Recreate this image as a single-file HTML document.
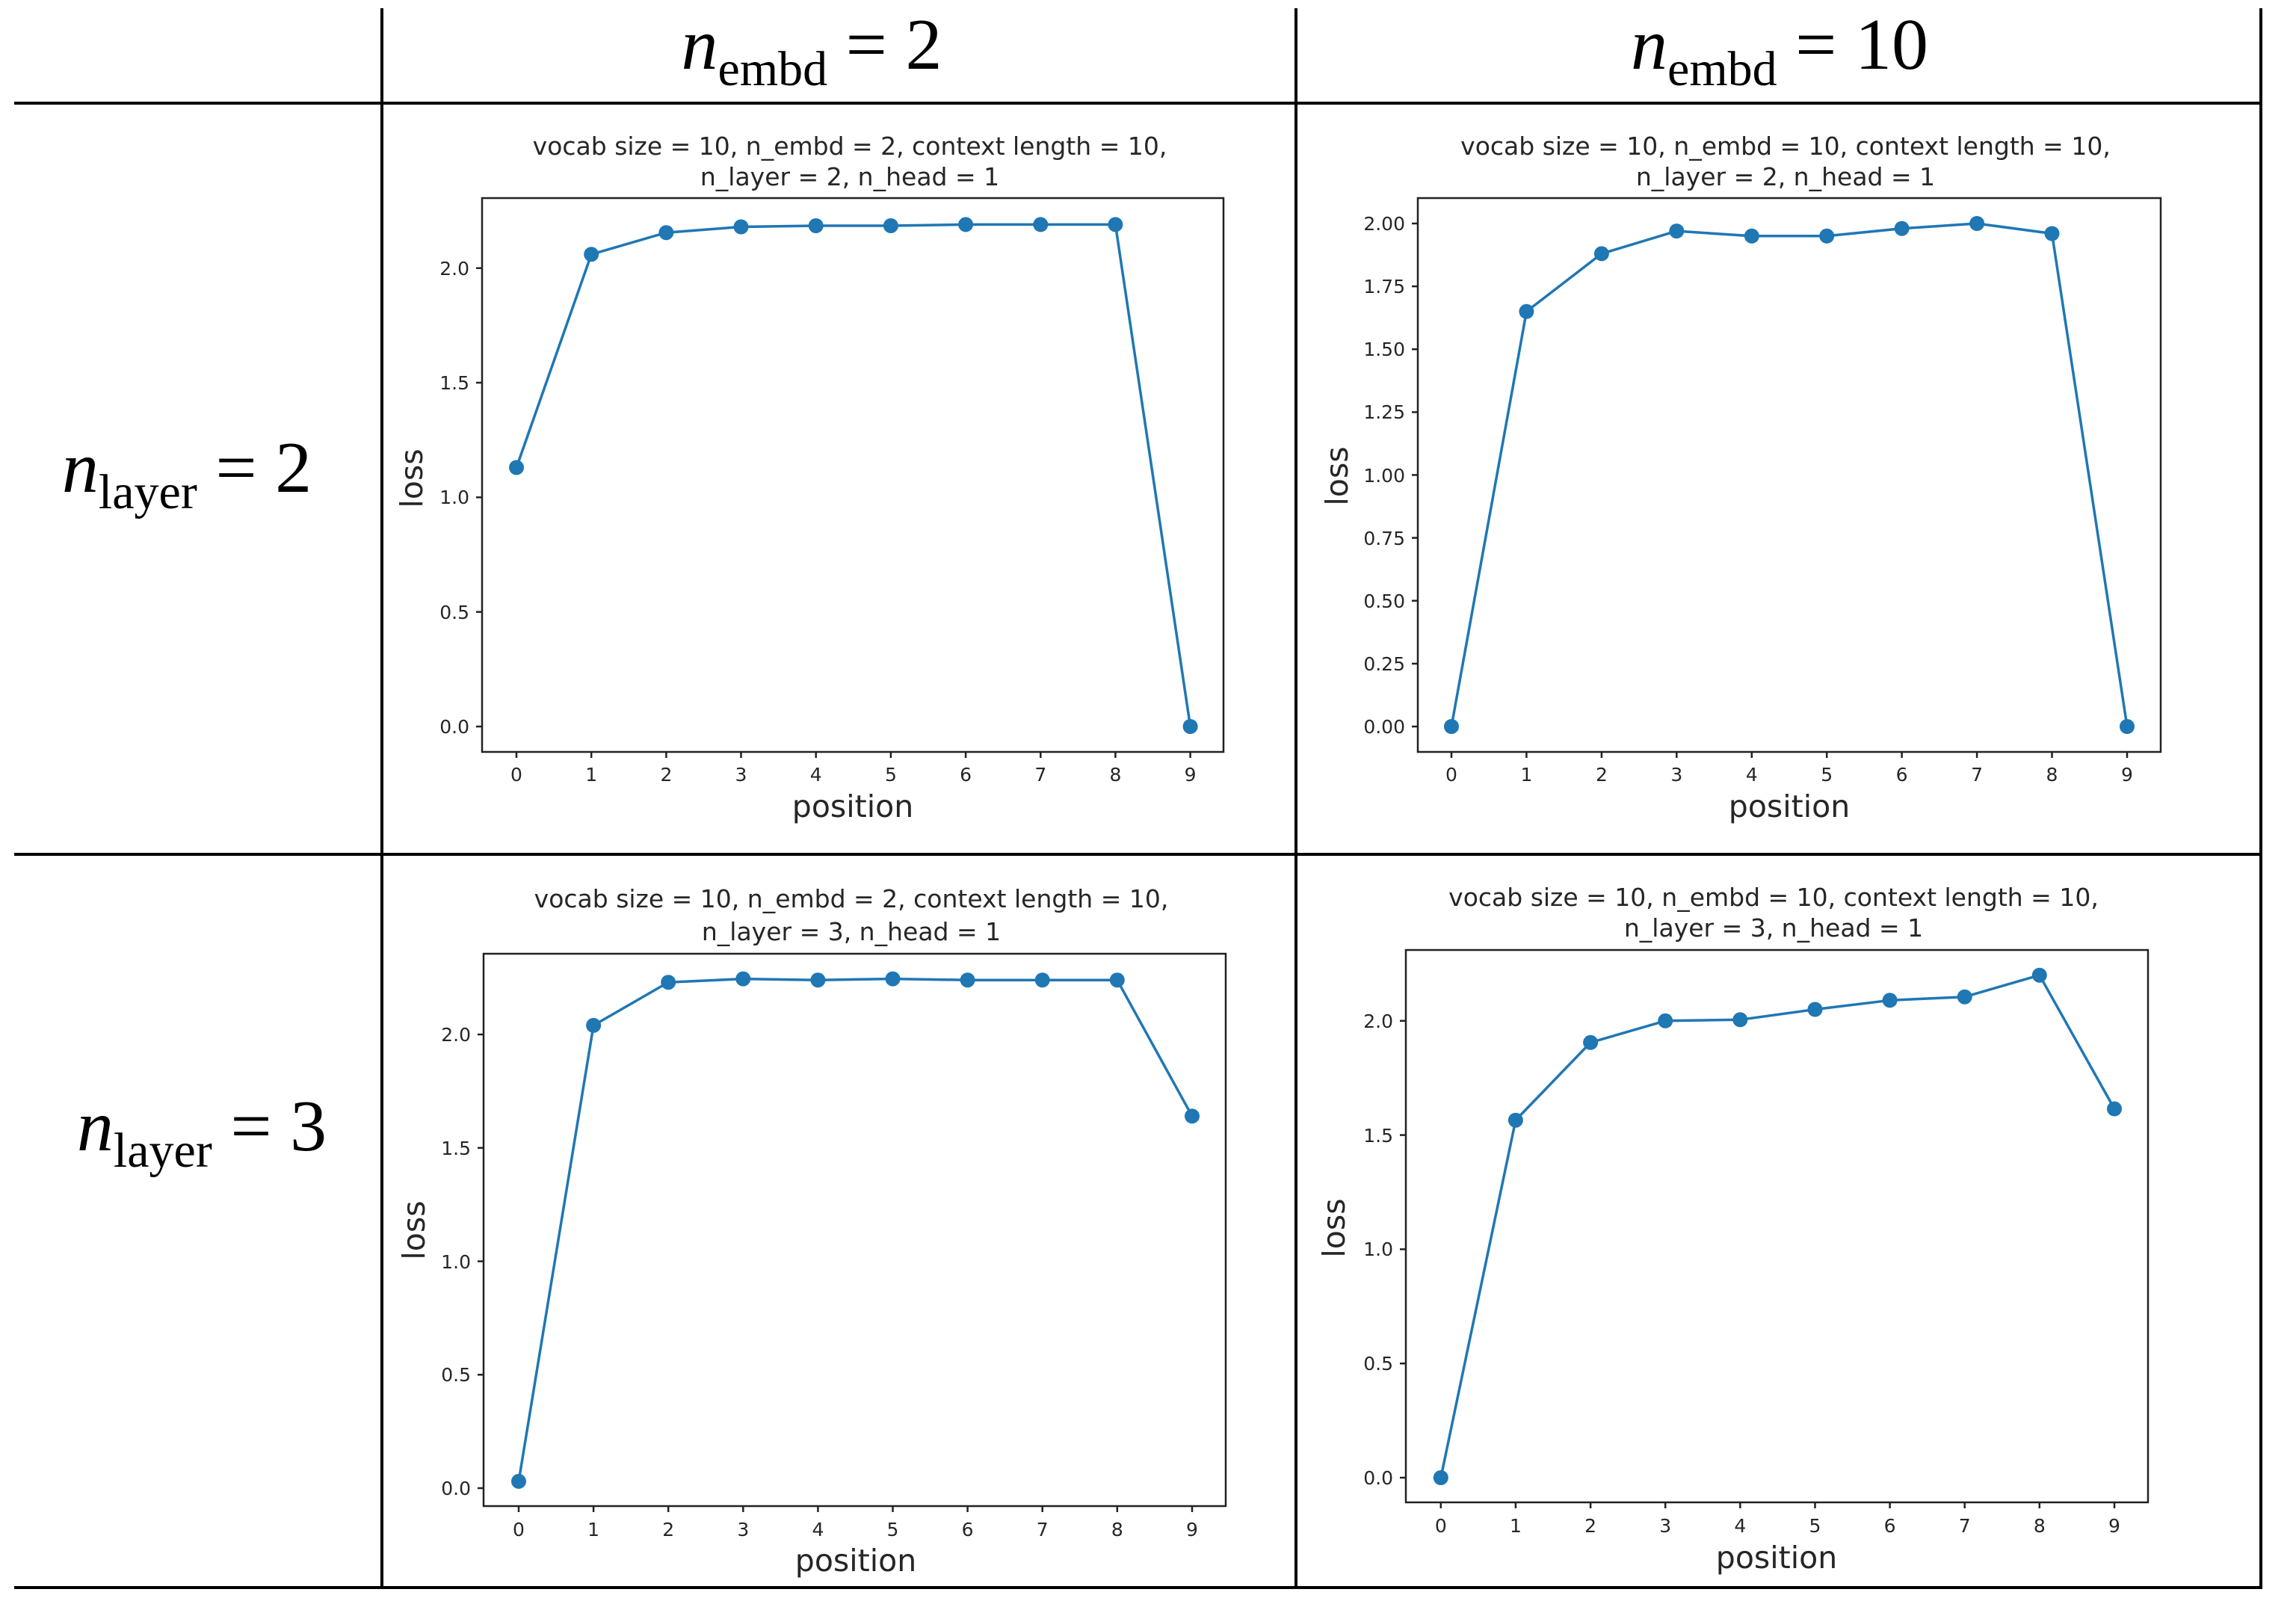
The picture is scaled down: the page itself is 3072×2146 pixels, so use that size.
<!DOCTYPE html>
<html><head><meta charset="utf-8"><style>
html,body{margin:0;padding:0;background:#fff;width:3072px;height:2146px;overflow:hidden}
svg{display:block}
.tk{font-family:"DejaVu Sans",sans-serif;font-size:25px;fill:#262626}
.tt{font-family:"DejaVu Sans",sans-serif;font-size:33px;fill:#262626;text-anchor:middle}
.lb{font-family:"DejaVu Sans",sans-serif;font-size:41px;fill:#262626;text-anchor:middle}
.hd{font-family:"Liberation Serif",serif;font-size:98px;fill:#000}
.ln{fill:none;stroke:#1f77b4;stroke-width:3.5;stroke-linejoin:round}
.ax{fill:none;stroke:#222;stroke-width:2.5}
</style></head><body>
<svg width="3072" height="2146" viewBox="0 0 3072 2146" xmlns="http://www.w3.org/2000/svg">
<g stroke="#000" stroke-width="4">
<line x1="19" y1="138" x2="3025" y2="138"/>
<line x1="19" y1="1143" x2="3025" y2="1143"/>
<line x1="19" y1="2124" x2="3027" y2="2124"/>
<line x1="511" y1="11" x2="511" y2="2126"/>
<line x1="1734" y1="11" x2="1734" y2="2126"/>
<line x1="3025" y1="11" x2="3025" y2="2126"/>
</g>
<text class="hd" x="1086" y="92" text-anchor="middle"><tspan font-style="italic">n</tspan><tspan font-size="66" dy="22">embd</tspan><tspan dy="-22"> = 2</tspan></text>
<text class="hd" x="2381" y="92" text-anchor="middle"><tspan font-style="italic">n</tspan><tspan font-size="66" dy="22">embd</tspan><tspan dy="-22"> = 10</tspan></text>
<text class="hd" x="250" y="658" text-anchor="middle"><tspan font-style="italic">n</tspan><tspan font-size="66" dy="22">layer</tspan><tspan dy="-22"> = 2</tspan></text>
<text class="hd" x="270" y="1539" text-anchor="middle"><tspan font-style="italic">n</tspan><tspan font-size="66" dy="22">layer</tspan><tspan dy="-22"> = 3</tspan></text>

<text class="tt" x="1137" y="207">vocab size = 10, n_embd = 2, context length = 10,</text>
<text class="tt" x="1137" y="248">n_layer = 2, n_head = 1</text>
<rect class="ax" x="645" y="265" width="992" height="741"/>
<g stroke="#222" stroke-width="2.5">
<line x1="637" y1="972" x2="645" y2="972"/><line x1="637" y1="818.7" x2="645" y2="818.7"/><line x1="637" y1="665.4" x2="645" y2="665.4"/><line x1="637" y1="512" x2="645" y2="512"/><line x1="637" y1="358.7" x2="645" y2="358.7"/>
<line x1="691" y1="1006" x2="691" y2="1014"/><line x1="791.2" y1="1006" x2="791.2" y2="1014"/><line x1="891.4" y1="1006" x2="891.4" y2="1014"/><line x1="991.5" y1="1006" x2="991.5" y2="1014"/><line x1="1091.7" y1="1006" x2="1091.7" y2="1014"/><line x1="1191.9" y1="1006" x2="1191.9" y2="1014"/><line x1="1292.1" y1="1006" x2="1292.1" y2="1014"/><line x1="1392.3" y1="1006" x2="1392.3" y2="1014"/><line x1="1492.4" y1="1006" x2="1492.4" y2="1014"/><line x1="1592.6" y1="1006" x2="1592.6" y2="1014"/>
</g>
<g class="tk" text-anchor="end">
<text x="628" y="981">0.0</text><text x="628" y="828">0.5</text><text x="628" y="674">1.0</text><text x="628" y="521">1.5</text><text x="628" y="368">2.0</text>
</g>
<g class="tk" text-anchor="middle">
<text x="691" y="1045">0</text><text x="791.2" y="1045">1</text><text x="891.4" y="1045">2</text><text x="991.5" y="1045">3</text><text x="1091.7" y="1045">4</text><text x="1191.9" y="1045">5</text><text x="1292.1" y="1045">6</text><text x="1392.3" y="1045">7</text><text x="1492.4" y="1045">8</text><text x="1592.6" y="1045">9</text>
</g>
<text class="lb" x="1141" y="1093">position</text>
<text class="lb" transform="translate(565,640) rotate(-90)">loss</text>
<polyline class="ln" points="691,625.5 791.2,340.3 891.4,311.2 991.5,303.5 1091.7,302 1191.9,302 1292.1,300.4 1392.3,300.4 1492.4,300.4 1592.6,972"/>
<g fill="#1f77b4"><circle cx="691" cy="625.5" r="10"/><circle cx="791.2" cy="340.3" r="10"/><circle cx="891.4" cy="311.2" r="10"/><circle cx="991.5" cy="303.5" r="10"/><circle cx="1091.7" cy="302" r="10"/><circle cx="1191.9" cy="302" r="10"/><circle cx="1292.1" cy="300.4" r="10"/><circle cx="1392.3" cy="300.4" r="10"/><circle cx="1492.4" cy="300.4" r="10"/><circle cx="1592.6" cy="972" r="10"/></g>

<text class="tt" x="2389" y="207">vocab size = 10, n_embd = 10, context length = 10,</text>
<text class="tt" x="2389" y="248">n_layer = 2, n_head = 1</text>
<rect class="ax" x="1897" y="265" width="994" height="741"/>
<g stroke="#222" stroke-width="2.5">
<line x1="1889" y1="972" x2="1897" y2="972"/><line x1="1889" y1="887.9" x2="1897" y2="887.9"/><line x1="1889" y1="803.75" x2="1897" y2="803.75"/><line x1="1889" y1="719.6" x2="1897" y2="719.6"/><line x1="1889" y1="635.5" x2="1897" y2="635.5"/><line x1="1889" y1="551.4" x2="1897" y2="551.4"/><line x1="1889" y1="467.25" x2="1897" y2="467.25"/><line x1="1889" y1="383.1" x2="1897" y2="383.1"/><line x1="1889" y1="299" x2="1897" y2="299"/>
<line x1="1942" y1="1006" x2="1942" y2="1014"/><line x1="2042.4" y1="1006" x2="2042.4" y2="1014"/><line x1="2142.9" y1="1006" x2="2142.9" y2="1014"/><line x1="2243.3" y1="1006" x2="2243.3" y2="1014"/><line x1="2343.8" y1="1006" x2="2343.8" y2="1014"/><line x1="2444.2" y1="1006" x2="2444.2" y2="1014"/><line x1="2544.6" y1="1006" x2="2544.6" y2="1014"/><line x1="2645.1" y1="1006" x2="2645.1" y2="1014"/><line x1="2745.5" y1="1006" x2="2745.5" y2="1014"/><line x1="2846" y1="1006" x2="2846" y2="1014"/>
</g>
<g class="tk" text-anchor="end">
<text x="1880" y="981">0.00</text><text x="1880" y="897">0.25</text><text x="1880" y="813">0.50</text><text x="1880" y="729">0.75</text><text x="1880" y="645">1.00</text><text x="1880" y="560">1.25</text><text x="1880" y="476">1.50</text><text x="1880" y="392">1.75</text><text x="1880" y="308">2.00</text>
</g>
<g class="tk" text-anchor="middle">
<text x="1942" y="1045">0</text><text x="2042.4" y="1045">1</text><text x="2142.9" y="1045">2</text><text x="2243.3" y="1045">3</text><text x="2343.8" y="1045">4</text><text x="2444.2" y="1045">5</text><text x="2544.6" y="1045">6</text><text x="2645.1" y="1045">7</text><text x="2745.5" y="1045">8</text><text x="2846" y="1045">9</text>
</g>
<text class="lb" x="2394" y="1093">position</text>
<text class="lb" transform="translate(1803,637) rotate(-90)">loss</text>
<polyline class="ln" points="1942,972 2042.4,416.8 2142.9,339.4 2243.3,309.1 2343.8,315.8 2444.2,315.8 2544.6,305.7 2645.1,299 2745.5,312.5 2846,972"/>
<g fill="#1f77b4"><circle cx="1942" cy="972" r="10"/><circle cx="2042.4" cy="416.8" r="10"/><circle cx="2142.9" cy="339.4" r="10"/><circle cx="2243.3" cy="309.1" r="10"/><circle cx="2343.8" cy="315.8" r="10"/><circle cx="2444.2" cy="315.8" r="10"/><circle cx="2544.6" cy="305.7" r="10"/><circle cx="2645.1" cy="299" r="10"/><circle cx="2745.5" cy="312.5" r="10"/><circle cx="2846" cy="972" r="10"/></g>

<text class="tt" x="1139" y="1214">vocab size = 10, n_embd = 2, context length = 10,</text>
<text class="tt" x="1139" y="1258">n_layer = 3, n_head = 1</text>
<rect class="ax" x="647" y="1276" width="993" height="739"/>
<g stroke="#222" stroke-width="2.5">
<line x1="639" y1="1991" x2="647" y2="1991"/><line x1="639" y1="1839.25" x2="647" y2="1839.25"/><line x1="639" y1="1687.5" x2="647" y2="1687.5"/><line x1="639" y1="1535.75" x2="647" y2="1535.75"/><line x1="639" y1="1384" x2="647" y2="1384"/>
<line x1="694" y1="2015" x2="694" y2="2023"/><line x1="794.1" y1="2015" x2="794.1" y2="2023"/><line x1="894.2" y1="2015" x2="894.2" y2="2023"/><line x1="994.3" y1="2015" x2="994.3" y2="2023"/><line x1="1094.4" y1="2015" x2="1094.4" y2="2023"/><line x1="1194.5" y1="2015" x2="1194.5" y2="2023"/><line x1="1294.6" y1="2015" x2="1294.6" y2="2023"/><line x1="1394.7" y1="2015" x2="1394.7" y2="2023"/><line x1="1494.8" y1="2015" x2="1494.8" y2="2023"/><line x1="1595" y1="2015" x2="1595" y2="2023"/>
</g>
<g class="tk" text-anchor="end">
<text x="630" y="2000">0.0</text><text x="630" y="1848">0.5</text><text x="630" y="1697">1.0</text><text x="630" y="1545">1.5</text><text x="630" y="1393">2.0</text>
</g>
<g class="tk" text-anchor="middle">
<text x="694" y="2055">0</text><text x="794.1" y="2055">1</text><text x="894.2" y="2055">2</text><text x="994.3" y="2055">3</text><text x="1094.4" y="2055">4</text><text x="1194.5" y="2055">5</text><text x="1294.6" y="2055">6</text><text x="1394.7" y="2055">7</text><text x="1494.8" y="2055">8</text><text x="1595" y="2055">9</text>
</g>
<text class="lb" x="1145" y="2102">position</text>
<text class="lb" transform="translate(568,1646) rotate(-90)">loss</text>
<polyline class="ln" points="694,1981.9 794.1,1371.9 894.2,1314.2 994.3,1309.6 1094.4,1311.2 1194.5,1309.6 1294.6,1311.2 1394.7,1311.2 1494.8,1311.2 1595,1493.3"/>
<g fill="#1f77b4"><circle cx="694" cy="1981.9" r="10"/><circle cx="794.1" cy="1371.9" r="10"/><circle cx="894.2" cy="1314.2" r="10"/><circle cx="994.3" cy="1309.6" r="10"/><circle cx="1094.4" cy="1311.2" r="10"/><circle cx="1194.5" cy="1309.6" r="10"/><circle cx="1294.6" cy="1311.2" r="10"/><circle cx="1394.7" cy="1311.2" r="10"/><circle cx="1494.8" cy="1311.2" r="10"/><circle cx="1595" cy="1493.3" r="10"/></g>

<text class="tt" x="2373" y="1212">vocab size = 10, n_embd = 10, context length = 10,</text>
<text class="tt" x="2373" y="1253">n_layer = 3, n_head = 1</text>
<rect class="ax" x="1881" y="1271" width="993" height="739"/>
<g stroke="#222" stroke-width="2.5">
<line x1="1873" y1="1977" x2="1881" y2="1977"/><line x1="1873" y1="1824.2" x2="1881" y2="1824.2"/><line x1="1873" y1="1671.4" x2="1881" y2="1671.4"/><line x1="1873" y1="1518.6" x2="1881" y2="1518.6"/><line x1="1873" y1="1365.8" x2="1881" y2="1365.8"/>
<line x1="1927.8" y1="2010" x2="1927.8" y2="2018"/><line x1="2027.9" y1="2010" x2="2027.9" y2="2018"/><line x1="2128.1" y1="2010" x2="2128.1" y2="2018"/><line x1="2228.2" y1="2010" x2="2228.2" y2="2018"/><line x1="2328.3" y1="2010" x2="2328.3" y2="2018"/><line x1="2428.5" y1="2010" x2="2428.5" y2="2018"/><line x1="2528.6" y1="2010" x2="2528.6" y2="2018"/><line x1="2628.7" y1="2010" x2="2628.7" y2="2018"/><line x1="2728.8" y1="2010" x2="2728.8" y2="2018"/><line x1="2829" y1="2010" x2="2829" y2="2018"/>
</g>
<g class="tk" text-anchor="end">
<text x="1864" y="1986">0.0</text><text x="1864" y="1833">0.5</text><text x="1864" y="1680">1.0</text><text x="1864" y="1528">1.5</text><text x="1864" y="1375">2.0</text>
</g>
<g class="tk" text-anchor="middle">
<text x="1927.8" y="2050">0</text><text x="2027.9" y="2050">1</text><text x="2128.1" y="2050">2</text><text x="2228.2" y="2050">3</text><text x="2328.3" y="2050">4</text><text x="2428.5" y="2050">5</text><text x="2528.6" y="2050">6</text><text x="2628.7" y="2050">7</text><text x="2728.8" y="2050">8</text><text x="2829" y="2050">9</text>
</g>
<text class="lb" x="2377" y="2098">position</text>
<text class="lb" transform="translate(1799,1643) rotate(-90)">loss</text>
<polyline class="ln" points="1927.8,1977 2027.9,1498.7 2128.1,1394.8 2228.2,1365.8 2328.3,1364.3 2428.5,1350.5 2528.6,1338.3 2628.7,1333.7 2728.8,1304.7 2829,1483.5"/>
<g fill="#1f77b4"><circle cx="1927.8" cy="1977" r="10"/><circle cx="2027.9" cy="1498.7" r="10"/><circle cx="2128.1" cy="1394.8" r="10"/><circle cx="2228.2" cy="1365.8" r="10"/><circle cx="2328.3" cy="1364.3" r="10"/><circle cx="2428.5" cy="1350.5" r="10"/><circle cx="2528.6" cy="1338.3" r="10"/><circle cx="2628.7" cy="1333.7" r="10"/><circle cx="2728.8" cy="1304.7" r="10"/><circle cx="2829" cy="1483.5" r="10"/></g>
</svg>
</body></html>
